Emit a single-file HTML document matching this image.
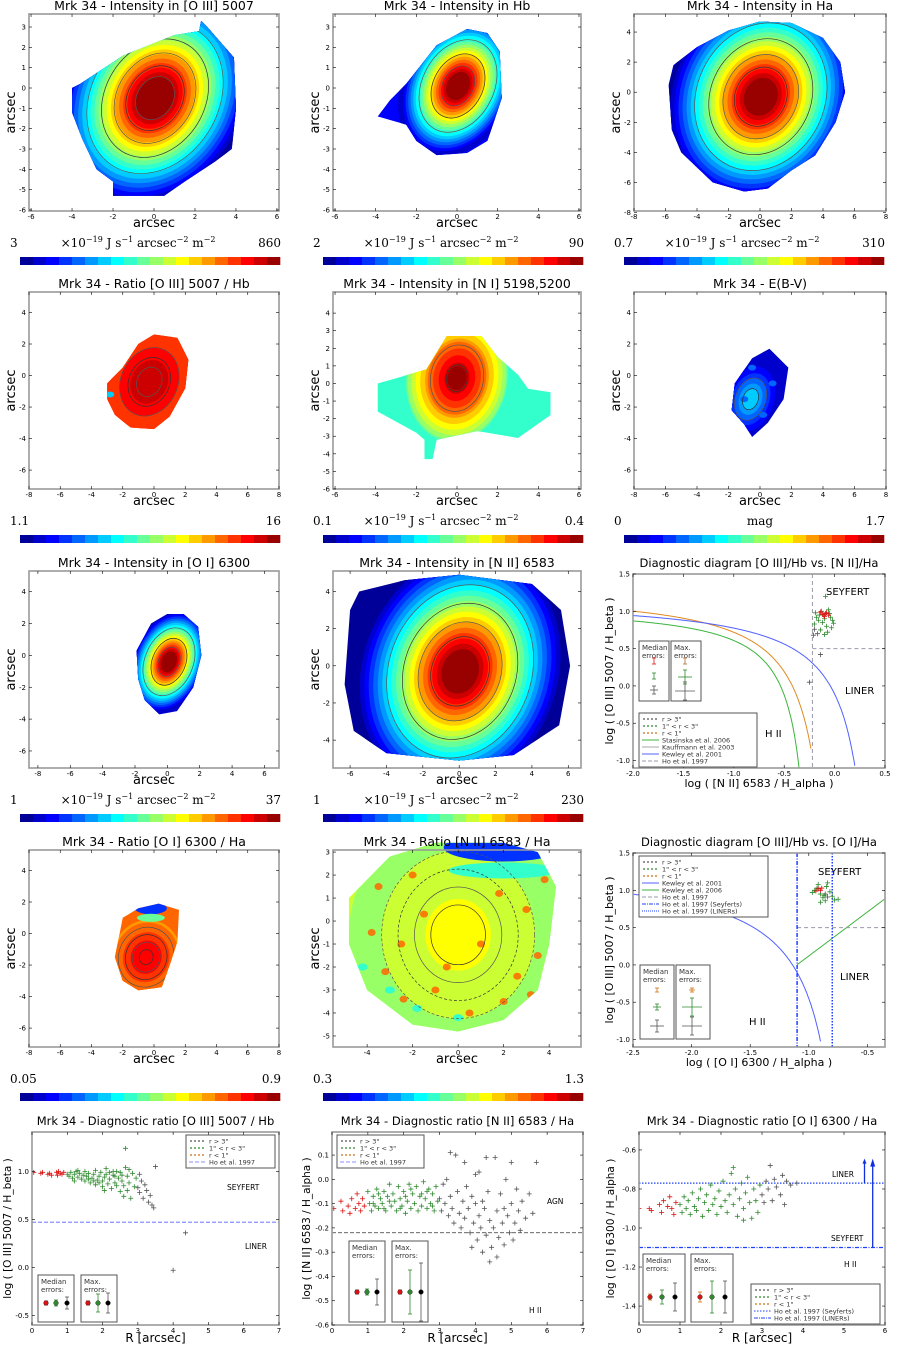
<!DOCTYPE html>
<html><head><meta charset="utf-8"><style>
body{margin:0;background:#fff;width:899px;height:1345px;overflow:hidden}
svg{display:block;font-family:"DejaVu Sans","Liberation Sans",sans-serif}
</style></head><body>
<svg id="fig" width="899" height="1345" viewBox="0 0 899 1345" xmlns="http://www.w3.org/2000/svg"></svg>
<script>
// ---------- data ----------
const oiiiRed=[[0.05,0.99],[0.25,0.98],[0.3,0.99],[0.45,0.97],[0.5,0.98],[0.55,0.96],[0.7,0.99],[0.72,0.96],[0.8,0.98],[0.85,0.97],[0.9,0.99],[0.75,1.0]];
const oiiiGreen=[[1.0,0.97],[1.05,0.95],[1.1,0.99],[1.15,0.93],[1.2,0.97],[1.25,1.0],[1.3,0.94],[1.35,0.98],[1.4,0.92],[1.45,0.96],[1.5,1.0],[1.5,0.9],[1.55,0.95],[1.6,0.98],[1.65,0.88],[1.7,0.93],[1.75,0.97],[1.8,1.01],[1.8,0.86],[1.85,0.91],[1.9,0.95],[1.95,0.99],[2.0,0.84],[2.0,0.9],[2.05,0.94],[2.1,1.03],[2.1,0.97],[2.15,0.87],[2.2,0.92],[2.25,0.82],[2.3,0.96],[2.3,1.0],[2.35,0.88],[2.4,0.85],[2.45,0.93],[2.5,0.79],[2.5,0.99],[2.55,0.9],[2.6,0.74],[2.6,0.85],[2.65,1.24],[2.65,1.04],[2.7,0.95],[2.7,0.8],[2.75,0.88],[2.8,0.72],[2.85,0.98],[2.9,0.84],[2.95,0.93],[1.2,0.9],[1.6,0.92],[1.9,0.88],[2.2,0.99],[2.4,1.0],[1.3,1.01],[1.75,0.9],[2.05,0.8],[2.35,0.95],[2.55,0.96],[2.75,1.02]];
const oiiiGray=[[3.0,0.83],[3.05,0.78],[3.1,0.9],[3.15,0.72],[3.2,0.86],[3.25,0.8],[3.3,0.68],[3.35,0.75],[3.4,0.65],[3.5,1.05],[3.45,0.62],[3.05,0.97],[4.35,0.36],[4.0,-0.03]];
const niiRed=[[0.05,-0.12],[0.25,-0.09],[0.3,-0.13],[0.45,-0.11],[0.5,-0.14],[0.55,-0.08],[0.65,-0.12],[0.7,-0.06],[0.75,-0.1],[0.8,-0.13],[0.85,-0.08],[0.9,-0.11]];
const niiGreen=[[1.0,-0.05],[1.05,-0.1],[1.1,-0.13],[1.15,-0.07],[1.2,-0.11],[1.25,-0.04],[1.3,-0.12],[1.35,-0.08],[1.4,-0.1],[1.45,-0.05],[1.5,-0.13],[1.55,-0.07],[1.6,-0.02],[1.65,-0.11],[1.7,-0.06],[1.75,-0.09],[1.8,-0.13],[1.85,-0.03],[1.9,-0.08],[1.95,-0.11],[2.0,-0.05],[2.05,-0.14],[2.1,-0.09],[2.15,-0.02],[2.2,-0.12],[2.25,-0.06],[2.3,-0.1],[2.35,-0.03],[2.4,-0.13],[2.45,-0.07],[2.5,-0.11],[2.55,-0.01],[2.6,-0.08],[2.65,-0.12],[2.7,-0.04],[2.75,-0.1],[2.8,-0.06],[2.85,-0.13],[2.9,-0.03],[2.95,-0.09],[1.3,-0.06],[1.6,-0.09],[1.9,-0.12],[2.2,-0.04],[2.5,-0.06],[2.8,-0.11],[1.45,-0.12],[2.05,-0.07],[2.65,-0.05],[1.15,-0.1]];
const niiBlack=[[3.0,-0.08],[3.05,-0.13],[3.1,-0.02],[3.15,-0.1],[3.2,0.0],[3.25,-0.15],[3.3,0.11],[3.3,-0.07],[3.35,-0.12],[3.4,-0.18],[3.45,0.1],[3.5,-0.05],[3.55,-0.14],[3.6,-0.2],[3.65,-0.09],[3.7,0.07],[3.7,-0.16],[3.75,-0.03],[3.8,-0.12],[3.85,-0.22],[3.9,-0.07],[3.95,-0.18],[4.0,-0.1],[4.05,-0.25],[4.1,0.03],[4.1,-0.15],[4.15,-0.2],[4.2,-0.3],[4.25,-0.12],[4.3,-0.23],[4.35,-0.05],[4.4,-0.17],[4.45,-0.28],[4.5,-0.2],[4.55,0.09],[4.6,-0.13],[4.6,-0.32],[4.65,-0.24],[4.7,-0.06],[4.75,-0.18],[4.8,-0.27],[4.85,0.0],[4.9,-0.15],[4.95,-0.22],[5.0,0.07],[5.0,-0.1],[5.05,-0.25],[5.1,-0.18],[5.15,-0.04],[5.2,-0.13],[5.25,-0.21],[5.3,-0.09],[5.4,-0.16],[5.5,-0.06],[5.6,-0.14],[5.7,0.07],[4.0,0.02],[4.3,0.09],[3.9,-0.28],[4.4,-0.34],[4.2,-0.09],[4.8,-0.12]];
const oiRed=[[0.0,-0.9],[0.25,-0.9],[0.3,-0.91],[0.5,-0.88],[0.55,-0.92],[0.6,-0.86],[0.7,-0.89],[0.75,-0.84],[0.8,-0.9],[0.9,-0.87],[0.85,-0.93]];
const oiGreen=[[1.0,-0.88],[1.05,-0.92],[1.1,-0.84],[1.15,-0.9],[1.2,-0.86],[1.25,-0.93],[1.3,-0.82],[1.35,-0.89],[1.4,-0.91],[1.45,-0.85],[1.5,-0.8],[1.55,-0.94],[1.6,-0.87],[1.65,-0.83],[1.7,-0.91],[1.75,-0.78],[1.8,-0.88],[1.85,-0.85],[1.9,-0.93],[1.95,-0.81],[2.0,-0.89],[2.05,-0.76],[2.1,-0.86],[2.15,-0.92],[2.2,-0.83],[2.25,-0.72],[2.3,-0.88],[2.35,-0.8],[2.4,-0.94],[2.45,-0.85],[2.5,-0.77],[2.55,-0.9],[2.6,-0.82],[2.65,-0.74],[2.7,-0.87],[2.75,-0.95],[2.8,-0.8],[2.85,-0.86],[2.9,-0.92],[2.95,-0.78],[2.3,-0.69],[2.55,-0.96]];
const oiGray=[[3.0,-0.83],[3.05,-0.87],[3.1,-0.76],[3.15,-0.8],[3.2,-0.68],[3.25,-0.86],[3.3,-0.75],[3.35,-0.79],[3.45,-0.83],[3.5,-0.73],[3.6,-0.76],[3.7,-0.78],[3.85,-0.77],[3.55,-0.88]];
const d1Green=[[-0.15,0.95],[-0.1,0.9],[-0.05,0.97],[-0.12,0.85],[-0.08,0.8],[-0.02,0.88],[-0.18,0.92],[-0.06,1.02],[-0.14,0.75],[-0.1,0.69],[-0.03,0.78],[-0.2,0.83],[-0.09,1.2],[-0.13,1.0],[-0.04,0.92],[-0.16,0.88],[-0.07,0.72],[-0.11,0.95],[-0.01,0.84],[-0.19,0.98]];
const d1Red=[[-0.12,0.96],[-0.08,0.98],[-0.1,0.93],[-0.06,0.95],[-0.14,0.99],[-0.09,0.97]];
const d1Gray=[[-0.17,0.7],[-0.21,0.68],[-0.14,0.42],[-0.25,0.05],[-0.2,0.76]];
const d2Green=[[-0.95,1.0],[-0.9,0.95],[-0.85,1.05],[-0.88,0.9],[-0.82,0.98],[-0.92,1.08],[-0.8,0.92],[-0.86,0.86],[-0.78,0.87],[-0.97,0.97],[-0.84,1.1],[-0.9,0.84],[-0.75,0.88],[-0.93,1.03],[-0.87,0.93]];
const d2Red=[[-0.92,1.02],[-0.9,1.0],[-0.94,0.99],[-0.89,1.03]];
const d2Gray=[[-0.86,0.95],[-0.84,0.91]];
const cbarValues=[["3","860"],["2","90"],["0.7","310"],["1.1","16"],["0.1","0.4"],["0","1.7"],["1","37"],["1","230"],["0.05","0.9"],["0.3","1.3"]];

// ---------- helpers ----------
const NS="http://www.w3.org/2000/svg";
const fig=document.getElementById('fig');
function el(tag,attrs,parent){const e=document.createElementNS(NS,tag);for(const k in attrs)e.setAttribute(k,attrs[k]);(parent||fig).appendChild(e);return e;}
function txt(x,y,s,size,parent,opts){opts=opts||{};const t=el('text',{x:x,y:y,'font-size':size,'text-anchor':opts.anchor||'start',fill:opts.fill||'#000'},parent);if(opts.rot)t.setAttribute('transform','rotate(-90 '+x+' '+y+')');if(opts.family)t.setAttribute('font-family',opts.family);t.textContent=s;return t;}
function cl(v){return Math.max(0,Math.min(1,v));}
function jet(t){const r=cl(1.5-Math.abs(4*t-3)),g=cl(1.5-Math.abs(4*t-2)),b=cl(1.5-Math.abs(4*t-1));return 'rgb('+Math.round(r*255)+','+Math.round(g*255)+','+Math.round(b*255)+')';}
function jq(t){t=Math.min(0.999,Math.max(0,t));return jet((Math.floor(t*20)+0.5)/20);}
function scales(ax){const sx=v=>ax.x0+(v-ax.xmin)/(ax.xmax-ax.xmin)*(ax.x1-ax.x0);const sy=v=>ax.y1-(v-ax.ymin)/(ax.ymax-ax.ymin)*(ax.y1-ax.y0);return [sx,sy];}
function frame(ax,g,xt,yt,fmtx,fmty){
  const [sx,sy]=scales(ax);
  const f=el('rect',{x:ax.x0,y:ax.y0,width:ax.x1-ax.x0,height:ax.y1-ax.y0,fill:'none',stroke:'#999','stroke-width':1.6},g);
  
  xt.forEach(v=>{const x=sx(v);el('line',{x1:x,x2:x,y1:ax.y1,y2:ax.y1-3,stroke:'#000','stroke-width':0.6},g);el('line',{x1:x,x2:x,y1:ax.y0,y2:ax.y0+3,stroke:'#000','stroke-width':0.6},g);txt(x,ax.y1+8,fmtx(v),7,g,{anchor:'middle'});});
  yt.forEach(v=>{const y=sy(v);el('line',{x1:ax.x0,x2:ax.x0+3,y1:y,y2:y,stroke:'#000','stroke-width':0.6},g);el('line',{x1:ax.x1,x2:ax.x1-3,y1:y,y2:y,stroke:'#000','stroke-width':0.6},g);txt(ax.x0-3,y+2.5,fmty(v),7,g,{anchor:'end'});});
}
function rng(a,b,s){const r=[];for(let v=a;v<=b+1e-9;v+=s)r.push(Math.round(v*100)/100);return r;}
let clipId=0;

// ---------- maps ----------
const COLX=[[29,279],[333,581],[634,886]];
const ROWY=[[14,211],[292,489],[571,768],[850,1047]];
const maps=[
 {name:'oiii-intensity-map',title:'Mrk 34 - Intensity in [O III] 5007',c:0,r:0,xr:[-6.1,6.1],yr:[-6.05,3.64],xt:rng(-6,6,2),yt:rng(-6,3,1),
  poly:[[-4,0],[-4,-1.2],[-3.5,-2.5],[-2.8,-4],[-2,-4.6],[-2,-5.3],[0.5,-5.3],[1.5,-4.6],[3,-3.6],[3.8,-3],[4,-1],[3.9,1.5],[2.6,3],[2.3,3.3],[2.2,2.8],[1,2.6],[-1.5,1.6],[-3,0.6],[-3.6,0.2]],
  cx:0.05,cy:-0.5,rx:4.4,ry:5.6,ang:32,c0:0.02,c1:0.99,p:1.0,core:0.2,bg:0.05,cont:[0.3,0.45,0.58,0.7,0.8]},
 {name:'hb-intensity-map',title:'Mrk 34 - Intensity in Hb',c:1,r:0,xr:[-6.1,6.1],yr:[-6.05,3.64],xt:rng(-6,6,2),yt:rng(-6,3,1),
  poly:[[-3.9,-1.4],[-2.5,-1.8],[-2,-2.6],[-1,-3.3],[0.5,-3.2],[1.5,-2.6],[2.2,-0.5],[2.1,1.8],[1.5,2.7],[0.5,2.9],[-1,2.1],[-2.5,0.2],[-3.3,-0.6]],
  cx:0.05,cy:0.1,rx:2.7,ry:3.7,ang:28,c0:0.05,c1:0.99,p:1.0,core:0.2,bg:0.12,cont:[0.35,0.55,0.72]},
 {name:'ha-intensity-map',title:'Mrk 34 - Intensity in Ha',c:2,r:0,xr:[-8,8],yr:[-7.9,5.2],xt:rng(-8,8,2),yt:rng(-8,4,2),
  poly:[[-5.8,0.5],[-5.6,-2.5],[-5,-4],[-4,-5],[-3,-6],[-1,-6.6],[0.5,-6.4],[2,-5.2],[3.5,-4.2],[4.8,-2],[5.4,0],[5.1,2],[4,3.6],[2,4.6],[0,4.7],[-2,4.1],[-4,3],[-5.5,1.8]],
  cx:0.05,cy:-0.3,rx:5.8,ry:7.2,ang:25,c0:0.03,c1:0.99,p:1.0,core:0.18,bg:0.08,cont:[0.3,0.45,0.6,0.72]},
 {name:'oiii-hb-ratio-map',title:'Mrk 34 - Ratio [O III] 5007 / Hb',c:0,r:1,xr:[-8,8],yr:[-7.2,5.3],xt:rng(-8,8,2),yt:rng(-6,4,2),
  poly:[[-3,-1.5],[-2.5,-2.5],[-1.5,-3.3],[0,-3.4],[1,-2.6],[2,-0.8],[2.2,1],[1.5,2.4],[0,2.6],[-1,2],[-2,0.5],[-3,-0.5]],
  cx:-0.3,cy:-0.4,rx:2.6,ry:3.2,ang:25,c0:0.8,c1:0.93,p:1.0,core:0.3,bg:0.82,cont:[0.3,0.5,0.7]},
 {name:'ni-intensity-map',title:'Mrk 34 - Intensity in [N I] 5198,5200',c:1,r:1,xr:[-6.1,6.1],yr:[-6,5.2],xt:rng(-6,6,2),yt:rng(-6,4,1),
  poly:[[-3.9,0],[-3.9,-1.6],[-2,-2.8],[-1.6,-3.2],[-1.6,-4.3],[-1.2,-4.3],[-1,-3.2],[1,-2.7],[2,-2.9],[3,-3.1],[4.6,-1.8],[4.6,-0.5],[3.5,-0.3],[3,0.5],[2,1.5],[1.2,2.7],[-0.5,2.7],[-1.5,0.8],[-3,0.3]],
  cx:0,cy:0.3,rx:2.6,ry:3.8,ang:10,c0:0.42,c1:0.95,p:1.3,core:0.18,bg:0.4,cont:[0.5,0.8]},
 {name:'ebv-map',title:'Mrk 34  - E(B-V)',c:2,r:1,xr:[-8,8],yr:[-7.2,5.3],xt:rng(-8,8,2),yt:rng(-6,4,2),
  poly:[[-1.8,-2.2],[-1,-3.1],[-0.5,-3.9],[0.5,-3],[1.5,-1.5],[1.8,0.5],[0.6,1.7],[-0.5,1.1],[-1.6,-0.5]],
  cx:-0.6,cy:-1.5,rx:1.6,ry:2.3,ang:20,c0:0.08,c1:0.3,p:1.0,core:0.3,bg:0.08,cont:[0.4,0.7]},
 {name:'oi-intensity-map',title:'Mrk 34 - Intensity in [O I] 6300',c:0,r:2,xr:[-8.55,6.9],yr:[-7.07,5.3],xt:rng(-8,6,2),yt:rng(-6,4,2),
  poly:[[-1.8,-1.5],[-1.4,-2.8],[-0.5,-3.7],[0.6,-3.5],[1.6,-2],[2.1,0],[1.9,1.8],[1,2.6],[0,2.6],[-1,2],[-1.9,0.3]],
  cx:0.1,cy:-0.4,rx:2.3,ry:3.4,ang:22,c0:0.05,c1:0.99,p:1.0,core:0.2,bg:0.08,cont:[0.35,0.55,0.72]},
 {name:'nii-intensity-map',title:'Mrk 34 - Intensity in [N II] 6583',c:1,r:2,xr:[-6.94,6.7],yr:[-5.5,5.1],xt:rng(-6,6,2),yt:rng(-4,4,2),
  poly:[[-6,3],[-6.3,-1],[-5.8,-3.5],[-4,-4.7],[0,-5.1],[3,-4.8],[5.5,-3.2],[6.1,0],[5.6,3],[4,4.4],[0,4.9],[-3,4.6],[-5.5,4]],
  cx:0.05,cy:-0.3,rx:5.6,ry:6.8,ang:20,c0:0.0,c1:0.99,p:1.0,core:0.18,bg:0.04,cont:[0.3,0.45,0.6,0.72]},
 {name:'oi-ha-ratio-map',title:'Mrk 34 - Ratio [O I] 6300 / Ha',c:0,r:3,xr:[-8,8],yr:[-7.2,5.3],xt:rng(-8,8,2),yt:rng(-6,4,2),
  poly:[[-2.3,-0.5],[-2.5,-1.5],[-2,-3],[-1,-3.6],[0.5,-3.4],[1,-2],[1.5,-0.5],[1.6,1.5],[0.3,1.9],[-1,1.6],[-2,1]],
  cx:-0.5,cy:-1.5,rx:2.2,ry:2.4,ang:20,c0:0.74,c1:0.88,p:1.0,core:0.3,bg:0.76,cont:[0.2,0.4,0.6,0.8]},
 {name:'nii-ha-ratio-map',title:'Mrk 34 - Ratio [N II] 6583 / Ha',c:1,r:3,xr:[-5.5,5.4],yr:[-5.48,3.09],xt:rng(-4,4,2),yt:rng(-5,3,1),
  poly:[[-4.8,1],[-4.8,-1],[-4,-3],[-2,-4.5],[0,-4.8],[2,-4.3],[3.5,-3],[4,-1],[4.3,1.5],[3.5,3],[2,3.4],[-1,3.4],[-3,2.8]],
  cx:0,cy:-0.6,rx:4.8,ry:5.2,ang:0,c0:0.52,c1:0.6,p:1.0,core:0.3,bg:0.55,cont:[0.3,0.45,0.6,0.75]}
];
const cbarUnits=['u','u','u','','u','mag','u','u','',''];
maps.forEach((m,i)=>{
  const g=el('g',{});
  const ax={x0:COLX[m.c][0],x1:COLX[m.c][1],y0:ROWY[m.r][0],y1:ROWY[m.r][1],xmin:m.xr[0],xmax:m.xr[1],ymin:m.yr[0],ymax:m.yr[1]};
  const [sx,sy]=scales(ax);
  const kx=(ax.x1-ax.x0)/(ax.xmax-ax.xmin),ky=(ax.y1-ax.y0)/(ax.ymax-ax.ymin);
  const id='clip'+(clipId++);
  const cp=el('clipPath',{id:id},g);
  el('polygon',{points:m.poly.map(p=>sx(p[0])+','+sy(p[1])).join(' ')},cp);
  const mg=el('g',{'clip-path':'url(#'+id+')'},g);
  el('rect',{x:ax.x0,y:ax.y0,width:ax.x1-ax.x0,height:ax.y1-ax.y0,fill:jq(m.bg)},mg);
  const N=20,cx=sx(m.cx),cy=sy(m.cy);
  for(let k=0;k<N;k++){
    const s=1-(1-m.core)*Math.pow(k/(N-1),m.p);const t=m.c0+(m.c1-m.c0)*k/(N-1);
    el('ellipse',{cx:cx,cy:cy,rx:m.rx*s*kx,ry:m.ry*s*ky,fill:jq(t),transform:'rotate('+m.ang+' '+cx+' '+cy+')'},mg);
  }
  if(m.name==='oi-ha-ratio-map'){el('ellipse',{cx:sx(-0.2),cy:sy(1.6),rx:16,ry:6,fill:jq(0.15)},mg);el('ellipse',{cx:sx(-0.2),cy:sy(1.0),rx:14,ry:4,fill:jq(0.45)},mg);}
  if(m.name==='nii-ha-ratio-map'){
    el('ellipse',{cx:sx(2.0),cy:sy(3.2),rx:60,ry:14,fill:jq(0.15)},mg);el('ellipse',{cx:sx(2.0),cy:sy(2.2),rx:55,ry:8,fill:jq(0.4)},mg);
    [[-3.5,1.5],[-2.5,-1],[3.5,-1.5],[3,0.5],[-1,-3],[2,-3.5],[-3.8,-0.5],[1,-1],[3.8,1.8],[-2,2],[0.5,-4],[-3.2,-2.2],[2.6,-2.4],[-1.5,0.3],[1.8,1.2],[-0.5,-2],[3.2,-3.2],[-2.4,-3.4]].forEach(p=>el('ellipse',{cx:sx(p[0]),cy:sy(p[1]),rx:4,ry:3.5,fill:jq(0.78),opacity:0.85},mg));
    [[-3,-3],[0,-4.2],[-4.2,-2],[-1.8,-3.8]].forEach(p=>el('ellipse',{cx:sx(p[0]),cy:sy(p[1]),rx:5,ry:3.5,fill:jq(0.4)},mg));
  }
  if(m.name==='oiii-hb-ratio-map'){el('ellipse',{cx:sx(-2.8),cy:sy(-1.2),rx:4,ry:3,fill:jq(0.3)},mg);}
  if(m.name==='ebv-map'){[[-0.5,0.5],[0.8,-0.5],[-1,-1.5],[0.2,-2.5]].forEach(p=>el('ellipse',{cx:sx(p[0]),cy:sy(p[1]),rx:4,ry:3,fill:jq(0.2)},mg));}
  m.cont.forEach((c,j)=>{
    el('ellipse',{cx:cx,cy:cy,rx:m.rx*(1-c)*kx,ry:m.ry*(1-c)*ky,fill:'none',stroke:j%2?'#333':'#555','stroke-width':0.7,'stroke-dasharray':(m.name==='nii-ha-ratio-map'&&j<2)?'3,2':'none',transform:'rotate('+m.ang+' '+cx+' '+cy+')'},mg);
  });
  frame(ax,g,m.xt,m.yt,v=>String(v),v=>String(v));
  const cxm=(ax.x0+ax.x1)/2;
  const tt=txt(cxm,ROWY[m.r][0]-4,m.title,12.5,g,{anchor:'middle'});
  txt(cxm,ax.y1+16,'arcsec',13,g,{anchor:'middle'});
  txt(ax.x0-14,(ax.y0+ax.y1)/2,'arcsec',13,g,{anchor:'middle',rot:true});
  const cb=el('g',{},g);
  const bx0=COLX[m.c][0]-(m.c===0?9:10),bx1=bx0+260,by=ROWY[m.r][1]+46;
  for(let k=0;k<20;k++)el('rect',{x:bx0+k*13,y:by,width:13.3,height:8,fill:jet((k+0.5)/20)},cb);
  const ly=by-10;
  txt(bx0-10,ly,cbarValues[i][0],12,cb,{family:'"DejaVu Serif","Liberation Serif",serif'});
  txt(bx1+1,ly,cbarValues[i][1],12,cb,{anchor:'end',family:'"DejaVu Serif","Liberation Serif",serif'});
  if(cbarUnits[i]==='u'){
    const t=el('text',{x:bx0+118,y:ly,'font-size':12,'text-anchor':'middle','font-family':'"DejaVu Serif","Liberation Serif",serif'},cb);
    const parts=[['×10',0],['−19',1],[' J s',0],['−1',1],[' arcsec',0],['−2',1],[' m',0],['−2',1]];
    let prev=0;parts.forEach(p=>{const s=el('tspan',p[1]?{'font-size':8,dy:-5}:{dy:prev?5:0},t);s.textContent=p[0];prev=p[1];});
  } else if(cbarUnits[i]==='mag'){txt(bx0+136,ly,'mag',12,cb,{anchor:'middle',family:'"DejaVu Serif","Liberation Serif",serif'});}
});

// ---------- scatter helpers ----------
function plus(x,y,c,g,s){s=s||2.5;el('path',{d:'M'+(x-s)+' '+y+'h'+(2*s)+'M'+x+' '+(y-s)+'v'+(2*s),stroke:c,'stroke-width':0.8},g);}
function points(arr,c,sx,sy,g,name,ax){const pg=el('g',{},g);
  arr.forEach(p=>{const x=sx(p[0]),y=sy(p[1]);if(x>=ax.x0&&x<=ax.x1&&y>=ax.y0&&y<=ax.y1)plus(x,y,c,pg);});}
const GREEN='#2e8b2e',RED='#dd1111',GRAY='#555',ORANGE='#d07010';
function errBox(x,y,w,h,label,g,bars){
  const b=el('g',{},g);
  el('rect',{x:x,y:y,width:w,height:h,fill:'#fff',stroke:'#555','stroke-width':1},b);
  txt(x+3,y+9,label[0],7,b,{fill:'#333'});txt(x+3,y+17,label[1],7,b,{fill:'#333'});
  bars.forEach(br=>{
    el('line',{x1:br[0],x2:br[0],y1:br[1]-br[3],y2:br[1]+br[3],stroke:br[4],'stroke-width':0.8},b);
    el('line',{x1:br[0]-2,x2:br[0]+2,y1:br[1]-br[3],y2:br[1]-br[3],stroke:br[4],'stroke-width':0.8},b);
    el('line',{x1:br[0]-2,x2:br[0]+2,y1:br[1]+br[3],y2:br[1]+br[3],stroke:br[4],'stroke-width':0.8},b);
    if(br[2]>0)el('line',{x1:br[0]-br[2],x2:br[0]+br[2],y1:br[1],y2:br[1],stroke:br[4],'stroke-width':0.8},b);
    if(br[5])el('circle',{cx:br[0],cy:br[1],r:2.3,fill:br[5],stroke:'#222','stroke-width':0.5},b);
  });
}
function legend(x,y,w,items,g){
  const lg=el('g',{},g);
  el('rect',{x:x,y:y,width:w,height:items.length*7+5,fill:'#fff',stroke:'#555','stroke-width':1},lg);
  items.forEach((it,k)=>{const yy=y+6+k*7;
    if(it[1]==='dots'){for(let j=0;j<4;j++)plus(x+5+j*4,yy,it[2],lg,1);}
    else el('line',{x1:x+3,x2:x+20,y1:yy,y2:yy,stroke:it[2],'stroke-width':1,'stroke-dasharray':it[1]},lg);
    txt(x+23,yy+2.5,it[0],6.5,lg,{fill:'#333'});});
}

// ---------- diagnostic diagram 1 ----------
(function(){
  const g=el('g',{});
  const ax={x0:633,x1:885,y0:574,y1:768,xmin:-2.0,xmax:0.5,ymin:-1.1,ymax:1.5};const [sx,sy]=scales(ax);
  const cp=el('clipPath',{id:'cd1'},g);el('rect',{x:ax.x0,y:ax.y0,width:ax.x1-ax.x0,height:ax.y1-ax.y0},cp);
  const pg=el('g',{'clip-path':'url(#cd1)'},g);
  const curve=(f,x0,x1,c,name)=>{let d='';for(let x=x0;x<=x1;x+=0.005){const y=f(x);d+=(d?'L':'M')+sx(x).toFixed(1)+' '+sy(y).toFixed(1);}const p=el('path',{d:d,fill:'none',stroke:c,'stroke-width':1},pg);};
  curve(x=>0.4/(x+0.17)+1.09,-2,-0.345,'#3cb43c','stasinska-curve');
  curve(x=>0.61/(x-0.05)+1.3,-2,-0.235,'#e08a20','kauffmann-curve');
  curve(x=>0.61/(x-0.47)+1.19,-2,0.2,'#5060ff','kewley-curve');
  el('line',{x1:sx(-0.22),x2:sx(-0.22),y1:ax.y0,y2:ax.y1,stroke:'#99a','stroke-width':1,'stroke-dasharray':'4,3'},pg);
  el('line',{x1:sx(-0.22),x2:ax.x1,y1:sy(0.5),y2:sy(0.5),stroke:'#99a','stroke-width':1,'stroke-dasharray':'4,3'},pg);
  points(d1Gray,GRAY,sx,sy,pg,'points-outer',ax);points(d1Green,GREEN,sx,sy,pg,'points-mid',ax);points(d1Red,RED,sx,sy,pg,'points-inner',ax);
  frame(ax,g,rng(-2,0.5,0.5),rng(-1,1.5,0.5),v=>v.toFixed(1),v=>v.toFixed(1));
  txt(759,567,'Diagnostic diagram [O III]/Hb vs. [N II]/Ha',11.5,g,{anchor:'middle'});
  txt(759,787,'log ( [N II] 6583 / H_alpha )',11,g,{anchor:'middle'});
  txt(613,671,'log ( [O III] 5007 / H_beta )',11,g,{anchor:'middle',rot:true});
  txt(826,595,'SEYFERT',10,g);txt(845,694,'LINER',10,g);txt(765,737,'H II',10,g);
  errBox(639,641,30,60,['Median','errors:'],g,[[654,661,0,3,RED],[654,676,0,3,GREEN],[654,690,4,4,GRAY]]);
  errBox(671,641,30,60,['Max.','errors:'],g,[[685,661,0,3,'#b06a30'],[685,677,7,7,GREEN],[685,691,10,9,GRAY]]);
  legend(639,713,118,[['r > 3"','dots',GRAY],['1" < r < 3"','dots',GREEN],['r < 1"','dots',ORANGE],['Stasinska et al. 2006','none','#3cb43c'],['Kauffmann et al. 2003','none','#aaa'],['Kewley et al. 2001','none','#5060ff'],['Ho et al. 1997','4,2','#99a']],g);
})();

// ---------- diagnostic diagram 2 ----------
(function(){
  const g=el('g',{});
  const ax={x0:633,x1:885,y0:853,y1:1047,xmin:-2.5,xmax:-0.35,ymin:-1.1,ymax:1.5};const [sx,sy]=scales(ax);
  const cp=el('clipPath',{id:'cd2'},g);el('rect',{x:ax.x0,y:ax.y0,width:ax.x1-ax.x0,height:ax.y1-ax.y0},cp);
  const pg=el('g',{'clip-path':'url(#cd2)'},g);
  let d='';for(let x=-2.5;x<=-0.9;x+=0.005){d+=(d?'L':'M')+sx(x).toFixed(1)+' '+sy(0.73/(x+0.59)+1.33).toFixed(1);}
  el('path',{d:d,fill:'none',stroke:'#5060ff','stroke-width':1},pg);
  el('line',{x1:sx(-1.1),y1:sy(1.18*-1.1+1.3),x2:sx(-0.35),y2:sy(1.18*-0.35+1.3),stroke:'#3cb43c','stroke-width':1},pg);
  el('line',{x1:sx(-1.1),x2:ax.x1,y1:sy(0.5),y2:sy(0.5),stroke:'#99a','stroke-width':1,'stroke-dasharray':'4,3'},pg);
  el('line',{x1:sx(-1.1),x2:sx(-1.1),y1:ax.y0,y2:ax.y1,stroke:'#2040ff','stroke-width':1.5,'stroke-dasharray':'4,1.5,1,1.5'},pg);
  el('line',{x1:sx(-0.8),x2:sx(-0.8),y1:ax.y0,y2:ax.y1,stroke:'#2040ff','stroke-width':1.5,'stroke-dasharray':'1.5,1.5'},pg);
  points(d2Gray,GRAY,sx,sy,pg,'points-outer',ax);points(d2Green,GREEN,sx,sy,pg,'points-mid',ax);points(d2Red,RED,sx,sy,pg,'points-inner',ax);
  frame(ax,g,rng(-2.5,-0.5,0.5),rng(-1,1.5,0.5),v=>v.toFixed(1),v=>v.toFixed(1));
  txt(759,846,'Diagnostic diagram [O III]/Hb vs. [O I]/Ha',11.5,g,{anchor:'middle'});
  txt(759,1066,'log ( [O I] 6300 / H_alpha )',11,g,{anchor:'middle'});
  txt(613,950,'log ( [O III] 5007 / H_beta )',11,g,{anchor:'middle',rot:true});
  txt(818,875,'SEYFERT',10,g);txt(840,980,'LINER',10,g);txt(749,1025,'H II',10,g);
  errBox(640,965,34,74,['Median','errors:'],g,[[657,990,0,2,ORANGE],[657,1007,4,3,GREEN],[657,1026,7,6,GRAY]]);
  errBox(676,965,34,74,['Max.','errors:'],g,[[692,990,3,2,ORANGE],[692,1007,10,9,GREEN],[692,1026,10,9,GRAY]]);
  legend(639,856,129,[['r > 3"','dots',GRAY],['1" < r < 3"','dots',GREEN],['r < 1"','dots',ORANGE],['Kewley et al. 2001','none','#5060ff'],['Kewley et al. 2006','none','#3cb43c'],['Ho et al. 1997','4,2','#99a'],['Ho et al. 1997 (Seyferts)','4,1,1,1','#2040ff'],['Ho et al. 1997 (LINERs)','1,1','#2040ff']],g);
})();

// ---------- radial plots ----------
function radial(cfg){
  const g=el('g',{});
  const ax=cfg.ax;const [sx,sy]=scales(ax);
  const id='cr'+(clipId++);const cp=el('clipPath',{id:id},g);el('rect',{x:ax.x0,y:ax.y0,width:ax.x1-ax.x0,height:ax.y1-ax.y0},cp);
  const pg=el('g',{'clip-path':'url(#'+id+')'},g);
  cfg.lines(pg,sx,sy,ax);
  points(cfg.gray,GRAY,sx,sy,pg,'points-outer',ax);points(cfg.green,GREEN,sx,sy,pg,'points-mid',ax);points(cfg.red,RED,sx,sy,pg,'points-inner',ax);
  frame(ax,g,cfg.xt,cfg.yt,v=>String(v),cfg.fy);
  txt((ax.x0+ax.x1)/2,1125,cfg.title,11.5,g,{anchor:'middle'});
  txt((ax.x0+ax.x1)/2,1342,'R [arcsec]',12,g,{anchor:'middle'});
  txt(cfg.ylx,(ax.y0+ax.y1)/2,cfg.ylab,10.5,g,{anchor:'middle',rot:true});
  cfg.extra(g);
}
radial({name:'oiii-hb-radial-chart',title:'Mrk 34 - Diagnostic ratio [O III] 5007 / Hb',ax:{x0:32,x1:279,y0:1132,y1:1325,xmin:0,xmax:7,ymin:-0.6,ymax:1.41},
  xt:rng(0,7,1),yt:rng(-0.5,1,0.5),fy:v=>v.toFixed(1),ylx:11,ylab:'log ( [O III] 5007 / H_beta )',red:oiiiRed,green:oiiiGreen,gray:oiiiGray,
  lines:(pg,sx,sy,ax)=>{el('line',{x1:ax.x0,x2:ax.x1,y1:sy(0.47),y2:sy(0.47),stroke:'#8890ff','stroke-width':1.2,'stroke-dasharray':'4,2'},pg);},
  extra:g=>{txt(227,1190,'SEYFERT',7.5,g);txt(245,1249,'LINER',7.5,g);
    legend(186,1135,89,[['r > 3"','dots',GRAY],['1" < r < 3"','dots',GREEN],['r < 1"','dots',ORANGE],['Ho et al. 1997','4,2','#8890ff']],g);
    errBox(38,1275,36,47,['Median','errors:'],g,[[46,1303,0,2,RED,RED],[56,1303,0,3,GREEN,GREEN],[67,1303,0,6,GRAY,'#000']]);
    errBox(81,1275,36,47,['Max.','errors:'],g,[[88,1303,0,2,RED,RED],[98,1303,0,9,GREEN,GREEN],[108,1303,0,10,GRAY,'#000']]);}
});
radial({name:'nii-ha-radial-chart',title:'Mrk 34 - Diagnostic ratio [N II] 6583 / Ha',ax:{x0:332,x1:583,y0:1132,y1:1325,xmin:0,xmax:7,ymin:-0.6,ymax:0.195},
  xt:rng(0,7,1),yt:rng(-0.6,0.1,0.1),fy:v=>v.toFixed(1),ylx:310,ylab:'log ( [N II] 6583 / H_alpha )',red:niiRed,green:niiGreen,gray:niiBlack,
  lines:(pg,sx,sy,ax)=>{el('line',{x1:ax.x0,x2:ax.x1,y1:sy(-0.22),y2:sy(-0.22),stroke:'#333','stroke-width':0.8,'stroke-dasharray':'4,2'},pg);},
  extra:g=>{txt(547,1204,'AGN',7.5,g);txt(529,1313,'H II',7.5,g);
    legend(337,1135,87,[['r > 3"','dots',GRAY],['1" < r < 3"','dots',GREEN],['r < 1"','dots',ORANGE],['Ho et al. 1997','4,2','#8890ff']],g);
    errBox(349,1241,36,81,['Median','errors:'],g,[[357,1292,0,2,RED,RED],[367,1292,0,3,GREEN,GREEN],[377,1292,0,13,GRAY,'#000']]);
    errBox(392,1241,36,81,['Max.','errors:'],g,[[400,1292,0,2,RED,RED],[410,1292,0,22,GREEN,GREEN],[421,1292,0,29,GRAY,'#000']]);}
});
radial({name:'oi-ha-radial-chart',title:'Mrk 34 - Diagnostic ratio [O I] 6300 / Ha',ax:{x0:639,x1:885,y0:1132,y1:1325,xmin:0,xmax:6,ymin:-1.497,ymax:-0.508},
  xt:rng(0,6,1),yt:rng(-1.4,-0.6,0.2),fy:v=>v.toFixed(1),ylx:614,ylab:'log ( [O I] 6300 / H_alpha )',red:oiRed,green:oiGreen,gray:oiGray,
  lines:(pg,sx,sy,ax)=>{
    el('line',{x1:ax.x0,x2:ax.x1,y1:sy(-0.77),y2:sy(-0.77),stroke:'#2040ff','stroke-width':1.3,'stroke-dasharray':'1.5,1.5'},pg);
    el('line',{x1:ax.x0,x2:ax.x1,y1:sy(-1.1),y2:sy(-1.1),stroke:'#2040ff','stroke-width':1.3,'stroke-dasharray':'4,1.5,1,1.5'},pg);
    el('line',{x1:sx(5.5),x2:sx(5.5),y1:sy(-0.77),y2:sy(-0.66),stroke:'#1030e0','stroke-width':1.3},pg);
    el('path',{d:'M'+sx(5.5)+' '+(sy(-0.66)-3)+'l-2 5h4z',fill:'#1030e0'},pg);
    el('line',{x1:sx(5.7),x2:sx(5.7),y1:sy(-1.1),y2:sy(-0.67),stroke:'#1030e0','stroke-width':1.3},pg);
    el('path',{d:'M'+sx(5.7)+' '+(sy(-0.67)-5)+'l-2.5 8h5z',fill:'#1030e0'},pg);},
  extra:g=>{txt(832,1177,'LINER',7.5,g);txt(831,1241,'SEYFERT',7.5,g);txt(844,1267,'H II',7.5,g);
    legend(751,1284,129,[['r > 3"','dots',GRAY],['1" < r < 3"','dots',GREEN],['r < 1"','dots',ORANGE],['Ho et al. 1997 (Seyferts)','1.5,1.5','#2040ff'],['Ho et al. 1997 (LINERs)','4,1,1,1','#2040ff']],g);
    errBox(643,1254,42,68,['Median','errors:'],g,[[650,1297,0,3,ORANGE,RED],[662,1297,0,7,GREEN,GREEN],[675,1297,0,14,GRAY,'#000']]);
    errBox(691,1254,42,68,['Max.','errors:'],g,[[700,1297,0,5,ORANGE,RED],[712,1297,0,16,GREEN,GREEN],[725,1297,0,16,GRAY,'#000']]);}
});
</script>
</body></html>
